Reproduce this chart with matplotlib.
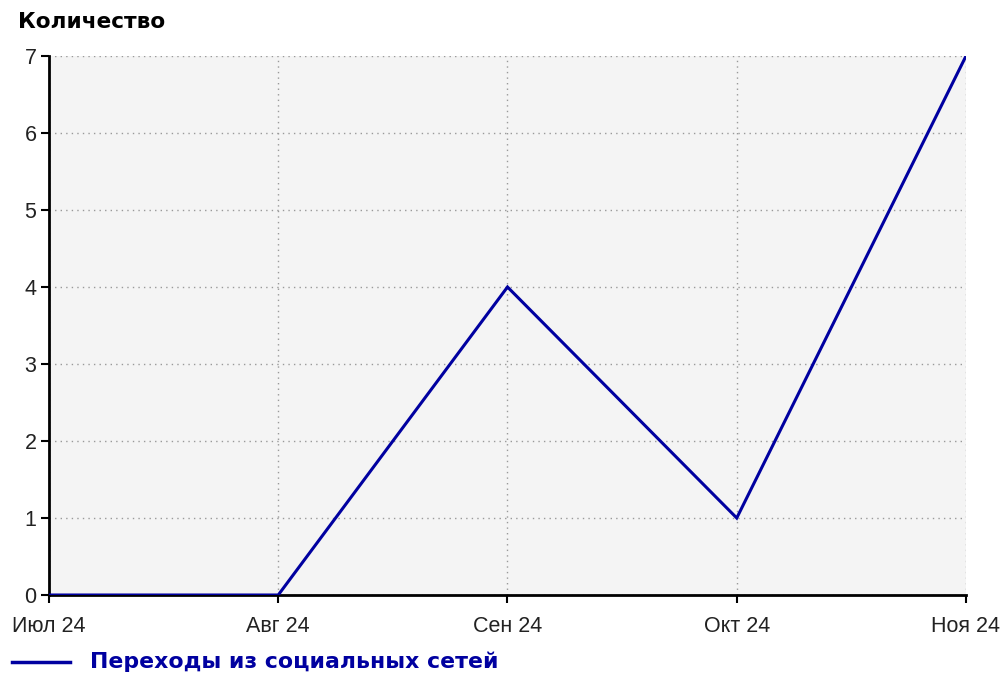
import matplotlib
matplotlib.use("Agg")
import matplotlib.pyplot as plt
from matplotlib.lines import Line2D

months = ["Июл 24", "Авг 24", "Сен 24", "Окт 24", "Ноя 24"]
values = [0, 0, 4, 1, 7]
series_name = "Переходы из социальных сетей"
y_label = "Количество"
y_ticks = [0, 1, 2, 3, 4, 5, 6, 7]

line_color = "#0000A0"
plt.rcParams["font.family"] = ["Liberation Sans", "DejaVu Sans"]

fig = plt.figure(figsize=(10.03, 6.77), dpi=100)
ax = fig.add_axes([49/1003, 1-595/677, (966-49)/1003, (595-56)/677])
ax.set_facecolor("#F4F4F4")
x = list(range(len(months)))
ax.plot(x, values, color=line_color, lw=2.2, zorder=3, solid_joinstyle="miter")
ax.set_xlim(0, len(months)-1)
ax.set_ylim(0, 7)
ax.set_xticks(x)
ax.set_xticklabels(months, fontsize=15.5, color="#222222")
ax.set_yticks(y_ticks)
ax.set_yticklabels([str(t) for t in y_ticks], fontsize=15.5, color="#222222")
ax.grid(True, color="#999999", linestyle=(0, (1, 3)), lw=1)
for s in ["top", "right"]:
    ax.spines[s].set_visible(False)
for s in ["left", "bottom"]:
    ax.spines[s].set_linewidth(2)
    ax.spines[s].set_color("black")
ax.tick_params(axis="both", length=6, width=1.5, color="black")
ax.tick_params(axis="x", pad=9)
ax.tick_params(axis="y", pad=3)
ax.set_axisbelow(True)

fig.text(18/1003, 1-22/677, y_label, fontsize=15.6, fontweight="bold", va="center", ha="left",
         family=["DejaVu Sans"])
fig.add_artist(Line2D([12/1003, 70/1003], [1-662/677, 1-662/677], color=line_color, lw=2.5, transform=fig.transFigure))
fig.text(90/1003, 1-662/677, series_name, fontsize=15.8, fontweight="bold", color=line_color, va="center", ha="left",
         family=["DejaVu Sans"])

fig.savefig("out.png", dpi=100)
